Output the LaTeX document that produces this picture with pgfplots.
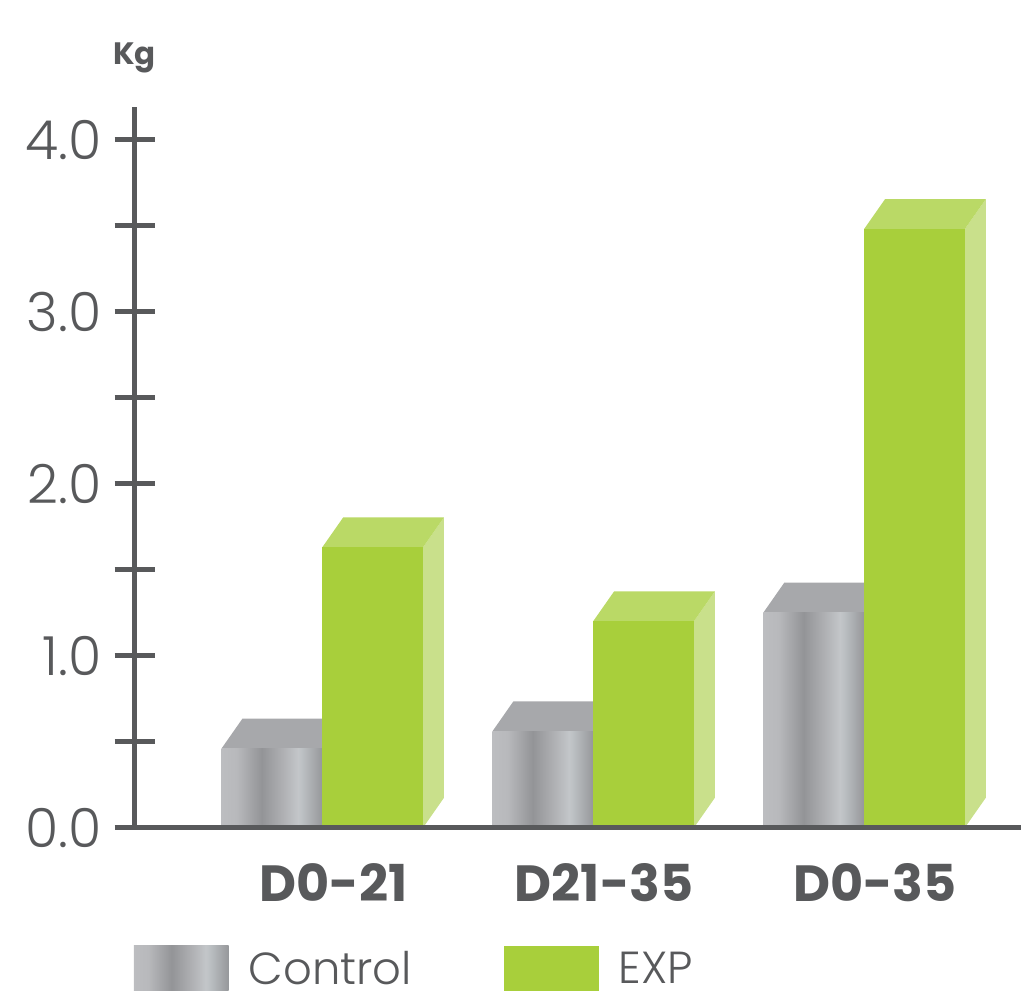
\documentclass[border=0pt]{standalone}
\usepackage{pgfplots}
\pgfplotsset{compat=1.18}
\usepackage{fontspec}
\setmainfont{Poppins}[UprightFont=* Light, BoldFont=* Bold]
\definecolor{axisgray}{HTML}{58595B}
\definecolor{txtgray}{HTML}{58595B}
\definecolor{gtop}{HTML}{A7A8AB}
\definecolor{efront}{HTML}{A8CF3B}
\definecolor{etop}{HTML}{BAD966}
\definecolor{eside}{HTML}{C9E08B}
\definecolor{c1}{HTML}{BCBDC0}
\definecolor{c2}{HTML}{B8B9BC}
\definecolor{c3}{HTML}{939497}
\definecolor{c4}{HTML}{AEAFB2}
\definecolor{c5}{HTML}{C3C6C9}
\definecolor{c6}{HTML}{BCC0C3}
\definecolor{c7}{HTML}{96979A}
\pgfdeclarehorizontalshading{ctrl}{100bp}{color(0bp)=(c1); color(25bp)=(c1); color(32.5bp)=(c2); color(45bp)=(c3); color(55bp)=(c4); color(63bp)=(c5); color(65bp)=(c6); color(75bp)=(c7); color(100bp)=(c7)}

% one group: #1 x position, #2 Control value, #3 EXP value, #4 extra options
\newcommand\group[4]{%
 \pgfmathsetmacro\xa{#1-0.372}%
 \pgfmathsetmacro\xb{#1}%
 \pgfmathsetmacro\xc{#1+0.372}%
 \pgfmathsetmacro\xad{#1-0.372+0.0773}%
 \pgfmathsetmacro\xbd{#1+0.0773}%
 \pgfmathsetmacro\xcd{#1+0.372+0.0773}%
 \pgfmathsetmacro\hc{#2+0.174}%
 \pgfmathsetmacro\he{#3+0.174}%
 \pgfmathsetmacro\xmc{#1-0.186}%
 \pgfmathsetmacro\xme{#1+0.186}%
 \addplot[fill=gtop, draw=none, forget plot] coordinates {(\xa,#2) (\xb,#2) (\xbd,\hc) (\xad,\hc)} -- cycle;
 \addplot[ybar, bar width=0.372, bar shift=0pt, draw=none, shading=ctrl,
   legend image code/.code={\path[shading=ctrl] (0pt,-22.5pt) rectangle (95pt,22.5pt);}, #4] coordinates {(\xmc,#2)};
 \addplot[fill=eside, draw=none, forget plot] coordinates {(\xc,0) (\xcd,0.174) (\xcd,\he) (\xc,#3)} -- cycle;
 \addplot[fill=etop, draw=none, forget plot] coordinates {(\xb,#3) (\xc,#3) (\xcd,\he) (\xbd,\he)} -- cycle;
 \addplot[ybar, bar width=0.372, bar shift=0pt, draw=none, fill=efront,
   legend image code/.code={\path[fill=efront] (0pt,-22.5pt) rectangle (95pt,22.5pt);}, #4] coordinates {(\xme,#3)};
}

\begin{document}
\begin{tikzpicture}
\begin{axis}[
  scale only axis,
  width=888pt, height=722.5pt,
  xmin=-0.6924, xmax=2.5783,
  ymin=0, ymax=4.191,
  clip=false,
  axis on top,
  axis x line=bottom, axis y line=left,
  axis line style={draw=axisgray, line width=4.5pt, -},
  xtick={0,1,2},
  xticklabels={D0-21, D21-35, D0-35},
  x tick style={draw=none},
  xticklabel style={font=\bfseries\fontsize{51}{51}\selectfont, text=txtgray, xshift=11pt, yshift=-12pt},
  ytick={0,1,2,3,4},
  minor ytick={0.5,1.5,2.5,3.5},
  y tick style={draw=axisgray, line width=4.5pt},
  tick align=center,
  major tick length=40pt, minor tick length=40pt,
  yticklabel style={font=\fontsize{54}{54}\selectfont, text=txtgray, xshift=-10pt},
  yticklabel={\pgfmathprintnumber[fixed, fixed zerofill, precision=1]{\tick}},
  /pgf/number format/assume math mode=true,
  title={Kg},
  title style={at={(0,1)}, anchor=base, yshift=36pt, font=\bfseries\fontsize{31}{31}\selectfont, text=txtgray},
  legend entries={\makebox[236pt][l]{Control}, EXP},
  legend columns=2,
  legend style={at={(0,0)}, anchor=north west, xshift=-1pt, yshift=-118pt,
    draw=none, fill=none, inner sep=0pt,
    nodes={inner sep=0pt, text depth=0pt},
    font=\fontsize{45}{45}\selectfont, text=txtgray,
    /tikz/every odd column/.append style={column sep=20pt},
    /tikz/every even column/.append style={column sep=20pt}},
]
\group{0}{0.46}{1.63}{}
\group{1}{0.56}{1.20}{forget plot}
\group{2}{1.25}{3.48}{forget plot}
\end{axis}
\path[use as bounding box] (-135pt,-168.5pt) rectangle (888pt,829.5pt);
\end{tikzpicture}
\end{document}
